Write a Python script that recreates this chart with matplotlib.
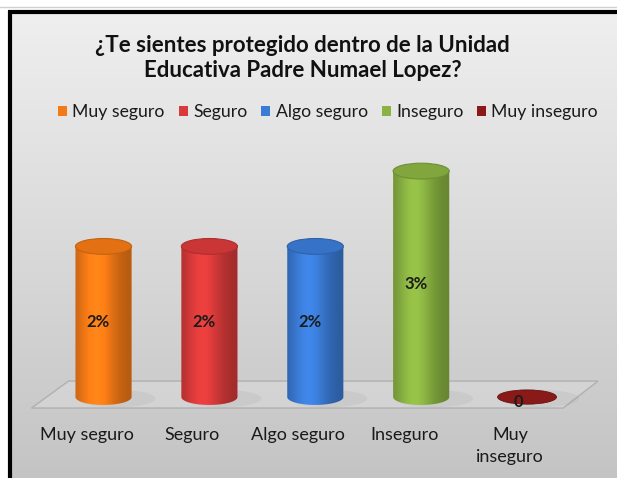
import numpy as np
import matplotlib.pyplot as plt
from matplotlib.patches import Ellipse, Polygon, Patch
from matplotlib.colors import to_rgb

plt.rcParams['font.family'] = ['Lato', 'DejaVu Sans']

categories = ["Muy seguro", "Seguro", "Algo seguro", "Inseguro", "Muy inseguro"]
tick_labels = ["Muy seguro", "Seguro", "Algo seguro", "Inseguro", "Muy\ninseguro"]
values = [2, 2, 2, 3, 0]
value_labels = ["2%", "2%", "2%", "3%", "0"]
colors = ["#f47a16", "#d93a3a", "#3a7bd5", "#8ab342", "#8a1a1a"]
title = "¿Te sientes protegido dentro de la Unidad\nEducativa Padre Numael Lopez?"

W, H = 617, 478
fig = plt.figure(figsize=(W / 100, H / 100), dpi=100)
fig.patch.set_facecolor("white")

# background panel (pixel coordinates)
bg = fig.add_axes([0, 0, 1, 1])
bg.set_xlim(0, W)
bg.set_ylim(H, 0)
bg.axis("off")
grad = np.linspace(0, 1, 256).reshape(-1, 1)
top_c = np.array(to_rgb("#efefef"))
bot_c = np.array(to_rgb("#c4c4c4"))
img = top_c[None, None, :] * (1 - grad[:, :, None]) + bot_c[None, None, :] * grad[:, :, None]
bg.imshow(img, extent=(10, W, H, 12), aspect="auto", zorder=0)
bg.plot([0, W], [7, 7], color="#d0d0d0", lw=1)
bg.plot([9.5, 9.5], [11, H], color="black", lw=3, solid_capstyle="butt")
bg.plot([8, W], [11.5, 11.5], color="black", lw=3, solid_capstyle="butt")

# main axes
ax = fig.add_axes([40 / W, 58 / H, 550.6 / W, 280 / H])
ax.patch.set_alpha(0)
x = np.arange(len(categories))
bw = 0.53
eh = 0.21

# floor
floor = Polygon([(-0.68, -0.146), (4.34, -0.146), (4.67, 0.212), (-0.33, 0.212)],
                closed=True, facecolor="#dadada", edgecolor="#9c9c9c", lw=1.0, alpha=0.6,
                zorder=1, clip_on=False)
ax.add_patch(floor)


def shade(c, n=256):
    t = np.linspace(0, 1, n)
    f = 0.74 + 0.36 * np.exp(-((t - 0.38) / 0.33) ** 2)
    rgb = np.clip(np.outer(f, to_rgb(c)), 0, 1)
    return rgb[None, :, :]


for xi, v, c, lab in zip(x, values, colors, value_labels):
    # soft shadow
    ax.add_patch(Ellipse((xi + 0.12, -0.02), bw * 1.4, eh * 1.1, color="#808080", alpha=0.1, lw=0, zorder=2))
    if v > 0:
        th = np.linspace(np.pi, 2 * np.pi, 60)
        pts = np.column_stack([xi + bw / 2 * np.cos(th), eh / 2 * np.sin(th)])
        pts = np.vstack([pts, [[xi + bw / 2, v], [xi - bw / 2, v]]])
        body = Polygon(pts, closed=True, facecolor="none", edgecolor="none")
        ax.add_patch(body)
        im = ax.imshow(shade(c), extent=(xi - bw / 2, xi + bw / 2, -eh / 2, v),
                       aspect="auto", zorder=3, interpolation="bilinear")
        im.set_clip_path(body)
        topc = np.clip(np.array(to_rgb(c)) * 0.93, 0, 1)
        ax.add_patch(Ellipse((xi, v), bw, eh, facecolor=topc,
                             edgecolor=np.clip(np.array(to_rgb(c)) * 0.8, 0, 1), lw=0.8, zorder=4))
        ax.text(xi - 0.05, v / 2, lab, ha="center", va="center", fontsize=12,
                fontweight="bold", color="#1c1c1c", zorder=5)
    else:
        ax.add_patch(Ellipse((xi, v), bw * 1.05, eh * 0.9, facecolor=c, edgecolor="#6a1010", lw=0.6, zorder=4))
        ax.text(xi - 0.08, v - 0.06, lab, ha="center", va="center", fontsize=12,
                fontweight="bold", color="#1c1c1c", zorder=5)

ax.set_xlim(-0.6, 4.6)
ax.set_ylim(-0.305, 3.413)
ax.set_xticks(x - 0.16)
ax.set_xticklabels(tick_labels, fontsize=13, color="#1a1a1a", linespacing=1.45)
ax.tick_params(axis="x", length=0, pad=5)
ax.set_yticks([])
for s in ax.spines.values():
    s.set_visible(False)

fig.text(0.49, 1 - 58 / H, title, ha="center", va="center", fontsize=16,
         fontweight="bold", color="#111111", linespacing=1.25)

handles = [Patch(facecolor=c, edgecolor="none") for c in colors]
fig.legend(handles, categories, loc="center", bbox_to_anchor=(0.532, 1 - 112 / H), ncol=5,
           frameon=False, fontsize=12.7, handlelength=0.5, handleheight=0.5,
           handletextpad=0.3, columnspacing=0.8, labelcolor="#1a1a1a")

fig.savefig("out.png", dpi=100)
